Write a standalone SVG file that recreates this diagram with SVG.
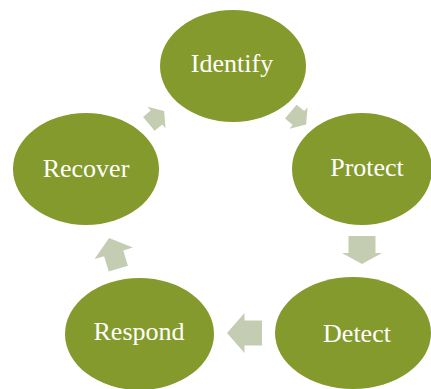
<svg xmlns="http://www.w3.org/2000/svg" width="431" height="389" viewBox="0 0 431 389">
<style>
.node{fill:#849A2C}
.lbl{font-family:"Liberation Serif",serif;font-size:26px;fill:#FFFFFF;text-anchor:middle}
.arr{fill:#C4CDB2}
</style>
<rect width="431" height="389" fill="#FFFFFF"/>
<g id="connectors">
<path class="arr" transform="translate(298.5,118) rotate(40)" d="M-10,-9 L0,-9 L0,-14 L10,0 L0,14 L0,9 L-10,9 Z"/>
<path class="arr" transform="translate(362,250) rotate(90)" d="M-14,-13.5 L3,-13.5 L3,-20 L14,0 L3,20 L3,13.5 L-14,13.5 Z"/>
<path class="arr" transform="translate(244.5,333) rotate(180)" d="M-17.5,-12.5 L0,-12.5 L0,-20 L17.5,0 L0,20 L0,12.5 L-17.5,12.5 Z"/>
<path class="arr" transform="translate(113.7,253.3) rotate(-106.8)" d="M-16,-10 L0,-10 L0,-20 L16,0 L0,20 L0,10 L-16,10 Z"/>
<path class="arr" transform="translate(156.5,117.5) rotate(-40)" d="M-10,-9 L0,-9 L0,-14 L10,0 L0,14 L0,9 L-10,9 Z"/>
</g>
<g id="identify"><ellipse class="node" cx="233" cy="66" rx="73" ry="56"/><text class="lbl" x="232" y="72">Identify</text></g>
<g id="protect"><ellipse class="node" cx="362" cy="169" rx="70" ry="56"/><text class="lbl" x="367" y="176">Protect</text></g>
<g id="detect"><ellipse class="node" cx="353" cy="333" rx="78" ry="56"/><text class="lbl" x="357" y="342">Detect</text></g>
<g id="respond"><ellipse class="node" cx="139.5" cy="334" rx="74.5" ry="56"/><text class="lbl" x="139" y="340">Respond</text></g>
<g id="recover"><ellipse class="node" cx="86" cy="169" rx="73" ry="56"/><text class="lbl" x="86" y="177">Recover</text></g>
</svg>
